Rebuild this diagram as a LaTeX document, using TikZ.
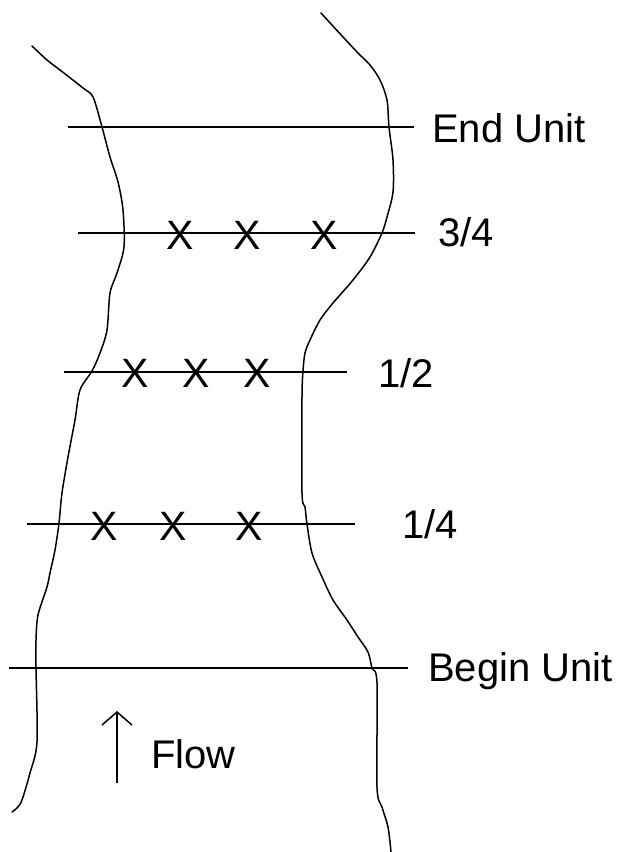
\documentclass[tikz,border=0pt]{standalone}
\usepackage{fontspec}
\setmainfont{Liberation Sans}
\usetikzlibrary{arrows.meta}
\begin{document}
\begin{tikzpicture}[x=1pt,y=-1pt,
  bank/.style={line width=1.5pt,line join=round,line cap=round},
  unitline/.style={line width=1.8pt},
  lbl/.style={inner sep=0pt,anchor=base west,font=\fontsize{40}{48}\selectfont},
  xmark/.style={inner sep=0pt,anchor=center,font=\fontsize{41}{48}\selectfont}]
\useasboundingbox (0,0) rectangle (617,852);
% left bank
\draw[bank] plot[smooth,tension=0.5] coordinates {
 (32,46) (47,60) (60,70) (83,88) (93,97) (102,127) (110,157) (118,182)
 (123,210) (124,247) (117,273) (110,293) (107,330) (100,353) (92,371)
 (80,390) (75,420) (68,457) (62,493) (59,523) (55,550) (50,573)
 (47,587) (38,615) (36,640) (36,668) (37,742) (30,773) (22,800) (17,808) (12,812)};
% right bank
\draw[bank] plot[smooth,tension=0.5] coordinates {
 (321,13) (343,37) (358,53) (370,65) (380,80) (387,100) (389,127) (393,160)
 (393,192) (387,217) (382,233) (370,257) (353,280) (333,303) (320,320)
 (310,340) (305,353) (303,371) (302,397) (302,493) (305,507) (307,524)
 (312,553) (322,577) (333,600) (347,620) (358,637) (368,652) (372,668)
 (377,683) (377,787) (382,807) (388,827) (391,852)};
% unit lines
\coordinate (e1) at (68,127);  \coordinate (e2) at (414,127);
\coordinate (q1) at (78,233);  \coordinate (q2) at (415,233);
\coordinate (h1) at (64,372);  \coordinate (h2) at (347,372);
\coordinate (f1) at (27,524);  \coordinate (f2) at (355,524);
\coordinate (b1) at (9,668);   \coordinate (b2) at (408,668);
\draw[unitline] (e1) -- (e2);
\draw[unitline] (q1) -- (q2);
\draw[unitline] (h1) -- (h2);
\draw[unitline] (f1) -- (f2);
\draw[unitline] (b1) -- (b2);
% labels
\node[lbl] (lend) at (432,142) {End Unit};
\node[lbl] (l34) at (438,246) {3/4};
\node[lbl] (l12) at (378,387) {1/2};
\node[lbl] (l14) at (402,538) {1/4};
\node[lbl] (lbeg) at (428,681) {Begin Unit};
% sample marks
\node[xmark] (x1) at (180,235) {X};
\node[xmark] (x2) at (247,235) {X};
\node[xmark] (x3) at (324,235) {X};
\node[xmark] (x4) at (135,373) {X};
\node[xmark] (x5) at (196,373) {X};
\node[xmark] (x6) at (257,373) {X};
\node[xmark] (x7) at (104,526) {X};
\node[xmark] (x8) at (173,526) {X};
\node[xmark] (x9) at (249,526) {X};
% flow arrow
\coordinate (fa) at (117,783);
\coordinate (fb) at (117,711);
\draw[line width=1.5pt,-{Straight Barb[length=13pt,width=30pt,line width=1.5pt]}] (fa) -- (fb);
\node[lbl] (lflow) at (151,768) {Flow};
\end{tikzpicture}
\end{document}
